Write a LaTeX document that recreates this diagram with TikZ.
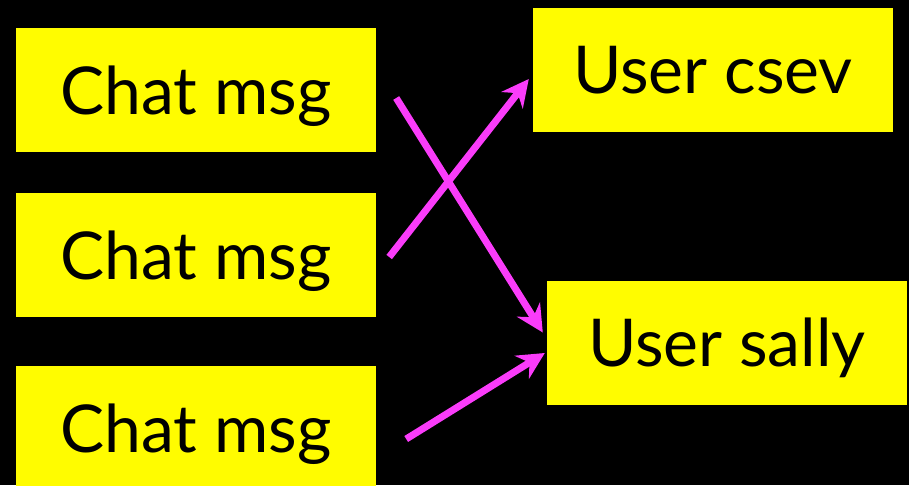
\documentclass[tikz,border=0pt]{standalone}
\usepackage{fontspec}
\setmainfont{Lato}
\usetikzlibrary{arrows.meta,calc}
\definecolor{boxyellow}{RGB}{255,252,0}
\definecolor{arrowpink}{RGB}{250,60,250}
\tikzset{
  ybox/.style={fill=boxyellow, draw=none, inner sep=0pt, minimum width=360pt,
    minimum height=124pt, text height=48pt, text depth=0pt,
    font=\fontsize{66}{70}\selectfont, text=black},
  link/.style={draw=arrowpink, line width=7pt,
    -{Stealth[length=27pt,width=27pt,inset=9pt]}}
}
\begin{document}
\begin{tikzpicture}[x=1pt,y=-1pt]
\useasboundingbox (0,0) rectangle (909,485);
\fill[black] (0,0) rectangle (909,485);
\begin{scope}
\clip (0,0) rectangle (909,485);
\node[ybox] (chat1) at (196,90) {Chat msg};
\node[ybox] (chat2) at (196,255) {Chat msg};
\node[ybox] (chat3) at (196,428) {Chat msg};
\node[ybox] (csev) at (713,69.5) {User csev};
\node[ybox] (sally) at (727,342.5) {User sally};
\end{scope}
\draw[link] ($(chat1.east)+(20,8)$) -- ($(sally.west)+(-4,-10)$);
\draw[link] ($(chat2.east)+(13,2)$) -- ($(csev.west)+(-4,9.5)$);
\draw[link] ($(chat3.east)+(30,11)$) -- ($(sally.west)+(-2,10.5)$);
\end{tikzpicture}
\end{document}
